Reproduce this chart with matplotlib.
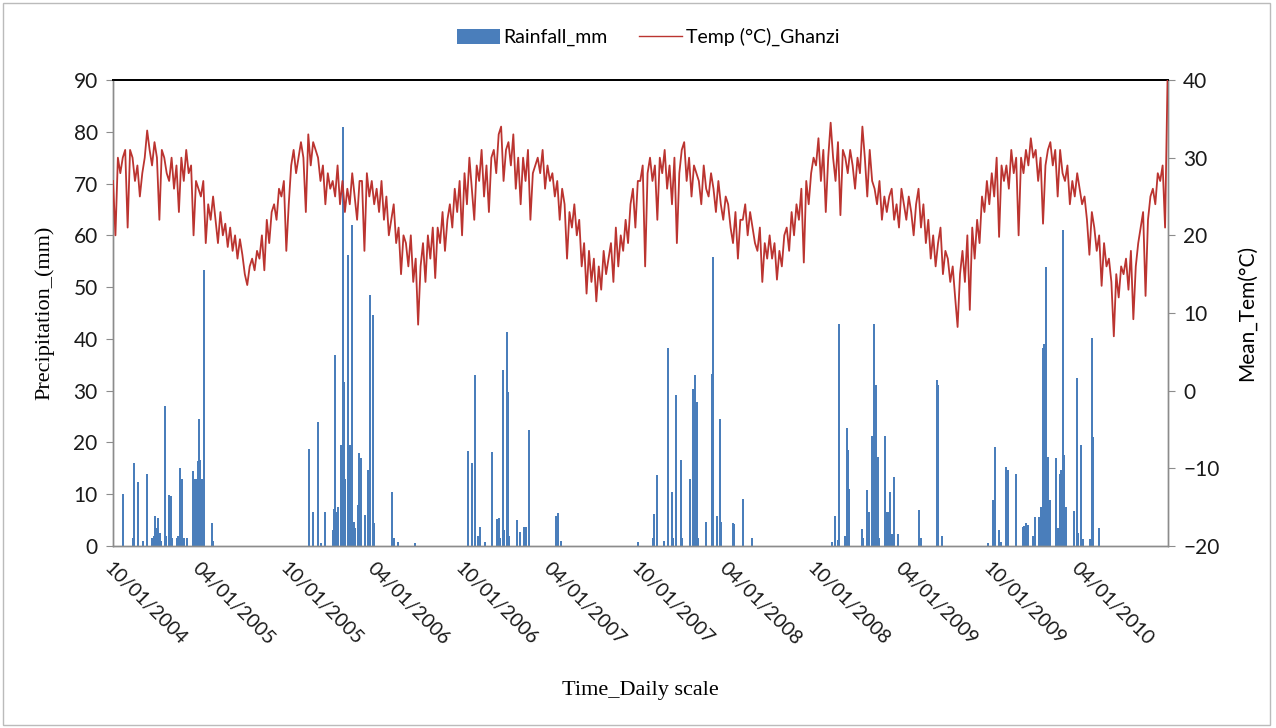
import matplotlib
matplotlib.use("Agg")
import matplotlib.pyplot as plt
import matplotlib.dates as mdates
import pandas as pd
from matplotlib.patches import Patch, Rectangle
from matplotlib.lines import Line2D

# Daily mean temperature at Ghanzi (6 readings per month, Oct 2004 - Sep 2010)
temp_c = [
    # 2004-10 .. 2005-09
    27, 20, 30, 28, 30, 31,
    21, 31, 30, 27, 29, 25,
    28, 30, 33.5, 31, 29, 32,
    30, 22, 31, 30, 28, 27,
    30, 26, 29, 23, 30, 27,
    31, 28, 29, 20, 27, 26,
    25, 27, 19, 24, 22, 25,
    22, 19, 23, 20, 21.5, 18.5,
    21, 18, 20, 17, 19.5, 17.5,
    15, 13.6, 16, 17, 15.5, 18,
    17, 20, 15.5, 22, 19, 23,
    24, 22, 26, 25, 27, 18,
    # 2005-10 .. 2006-09
    24, 29, 31, 28, 30, 32,
    30, 23, 33, 29, 32, 31,
    30, 27, 29, 24, 28, 26,
    27, 25, 29, 24, 27, 23,
    26, 24, 28, 25, 22, 27,
    27, 18, 28, 25, 27, 24,
    26, 23, 27, 22, 25, 20,
    22, 24, 19, 21, 15, 20,
    19, 16, 20, 14, 17, 8.5,
    16, 19, 14, 20, 17, 21,
    14.5, 21, 19, 23, 18, 22,
    24, 21, 26, 23, 27, 20,
    # 2006-10 .. 2007-09
    28, 24, 30, 26, 22, 29,
    27, 31, 25, 29, 23, 30,
    31, 28, 33, 34, 27, 31,
    32, 29, 33, 26, 30, 24,
    30, 27, 31, 22, 28, 29,
    30, 28, 31, 26, 29, 27,
    28, 25, 27, 22, 26, 24,
    17, 23, 21, 24, 20, 22,
    16, 19, 12.5, 18, 14, 17,
    11.5, 16, 13, 18, 15, 17,
    19, 14, 21, 16, 20, 18,
    22, 19, 24, 26, 21, 27,
    # 2007-10 .. 2008-09
    27, 29, 16, 28, 30, 27,
    29, 22, 30, 28, 31, 26,
    29, 24, 30, 19, 28, 31,
    32, 27, 30, 25, 29, 28,
    27, 24, 29, 26, 25, 28,
    26, 23, 27, 24, 22, 25,
    24, 21, 19, 23, 17, 22,
    22, 24, 20, 23, 21, 19,
    18, 21, 14, 19, 17, 20,
    17, 19, 14.3, 18, 16, 20,
    21, 18, 23, 20, 24, 22,
    26, 16.5, 27, 24, 28, 30,
    # 2008-10 .. 2009-09
    29, 32.5, 27, 31, 23, 30,
    34.5, 30, 27, 32, 22.6, 31,
    30, 28, 31, 29, 26, 30,
    28, 34, 30, 25, 31, 27,
    26, 24, 27, 22, 25, 23,
    25, 26, 22, 24, 21, 26,
    24, 22, 25, 23, 20, 24,
    26, 21, 24, 19, 22, 17,
    20, 16, 19, 21, 15, 18,
    17, 14, 16, 12, 8.2, 15,
    18, 14, 20, 10.4, 21, 17,
    22, 19, 25, 23, 27, 24,
    # 2009-10 .. 2010-09
    28, 25, 30, 19.8, 29, 27,
    29, 26, 31, 28, 30, 20,
    30, 28, 31, 29, 32.5, 30,
    31, 27, 30, 21.5, 29, 31,
    32, 29, 31, 25, 31, 28,
    27, 29, 24, 27, 25, 28,
    26, 24, 25, 22, 17.5, 23,
    21, 18, 20, 13.5, 19, 16,
    17, 14, 7, 15, 12, 16,
    15, 17, 13, 18, 9.2, 16,
    19, 21, 23, 12.2, 22, 25,
    26, 24, 28, 27, 29, 21,
    40,
]

# Daily rainfall events (mm)
rain_dates = [
    "2004-10-22", "2004-11-12", "2004-11-14", "2004-11-22", "2004-12-03", "2004-12-10",
    "2004-12-21", "2004-12-25", "2004-12-28", "2004-12-31", "2005-01-03", "2005-01-06",
    "2005-01-09", "2005-01-18", "2005-01-20", "2005-01-25", "2005-01-29", "2005-01-31",
    "2005-02-11", "2005-02-14", "2005-02-18", "2005-02-21", "2005-02-25", "2005-03-03",
    "2005-03-16", "2005-03-21", "2005-03-24", "2005-03-26", "2005-03-28", "2005-03-31",
    "2005-04-03", "2005-04-08", "2005-04-24", "2005-04-26",
    "2005-11-12", "2005-11-21", "2005-12-01", "2005-12-07", "2005-12-16", "2006-01-01",
    "2006-01-03", "2006-01-05", "2006-01-08", "2006-01-11", "2006-01-18", "2006-01-21",
    "2006-01-24", "2006-01-26", "2006-02-01", "2006-02-05", "2006-02-09", "2006-02-13",
    "2006-02-16", "2006-02-22", "2006-02-24", "2006-02-27", "2006-03-09", "2006-03-14",
    "2006-03-19", "2006-03-24", "2006-03-28", "2006-05-03", "2006-05-07", "2006-05-16",
    "2006-06-21",
    "2006-10-09", "2006-10-16", "2006-10-23", "2006-10-30", "2006-11-02", "2006-11-13",
    "2006-11-27", "2006-12-07", "2006-12-11", "2006-12-13", "2006-12-19", "2006-12-21",
    "2006-12-28", "2006-12-30", "2007-01-02", "2007-01-18", "2007-01-24", "2007-02-01",
    "2007-02-05", "2007-02-12", "2007-04-08", "2007-04-11", "2007-04-14", "2007-04-19",
    "2007-09-27", "2007-10-28", "2007-10-30", "2007-11-04", "2007-11-20", "2007-11-28",
    "2007-12-05", "2007-12-09", "2007-12-15", "2007-12-24", "2007-12-26", "2008-01-12",
    "2008-01-18", "2008-01-23", "2008-01-26", "2008-01-29", "2008-02-15", "2008-02-27",
    "2008-02-29", "2008-03-09", "2008-03-14", "2008-03-17", "2008-04-10", "2008-04-13",
    "2008-05-01", "2008-05-20",
    "2008-11-02", "2008-11-09", "2008-11-14", "2008-11-17", "2008-11-30", "2008-12-03",
    "2008-12-06", "2008-12-08", "2009-01-03", "2009-01-06", "2009-01-13", "2009-01-18",
    "2009-01-24", "2009-01-29", "2009-02-02", "2009-02-05", "2009-02-07", "2009-02-20",
    "2009-02-24", "2009-02-27", "2009-03-03", "2009-03-06", "2009-03-11", "2009-03-19",
    "2009-05-02", "2009-05-06", "2009-06-08", "2009-06-11", "2009-06-18",
    "2009-09-22", "2009-10-03", "2009-10-06", "2009-10-16", "2009-10-19", "2009-10-30",
    "2009-11-02", "2009-11-20", "2009-12-03", "2009-12-07", "2009-12-10", "2009-12-14",
    "2009-12-24", "2009-12-29", "2010-01-07", "2010-01-10", "2010-01-14", "2010-01-17",
    "2010-01-21", "2010-01-24", "2010-01-28", "2010-02-11", "2010-02-14", "2010-02-18",
    "2010-02-21", "2010-02-24", "2010-02-28", "2010-03-03", "2010-03-19", "2010-03-26",
    "2010-03-29", "2010-04-03", "2010-04-07", "2010-04-23", "2010-04-26", "2010-04-29",
    "2010-05-11",
]
rain_mm = [
    10, 1.5, 16, 12.4, 1, 14,
    1.5, 2, 5.7, 3.5, 5.5, 2.5,
    1, 27, 2, 9.9, 9.7, 1.5,
    1.5, 2, 15, 13, 1.5, 1.5,
    14.4, 13, 13, 16.4, 24.6, 16.6,
    13, 53.3, 4.4, 1,
    18.8, 6.6, 23.9, 0.5, 6.6, 3,
    7.2, 36.9, 6.5, 7.6, 19.5, 81,
    31.7, 13, 56.2, 19.5, 62, 4.7,
    3.4, 7.9, 18, 17, 6, 14.6,
    48.5, 44.6, 4.4, 10.5, 1.5, 0.8,
    0.5,
    18.3, 16, 33, 2, 3.7, 0.8,
    18.2, 5.3, 5.4, 1.5, 34, 3,
    41.4, 29.8, 2, 5, 2.8, 3.7,
    3.7, 22.4, 5.7, 4.2, 6.3, 1,
    0.8, 1.5, 6.2, 13.7, 1, 38.2,
    10.5, 1.5, 29.2, 16.6, 1.5, 13,
    30.3, 33, 27.9, 1.5, 4.7, 33.3,
    55.9, 5.7, 24.6, 4.7, 4.4, 4.2,
    9, 1.6,
    0.8, 5.8, 1.2, 42.8, 2, 22.7,
    18.5, 11.1, 3.2, 1.5, 10.8, 6.6,
    21.3, 42.8, 31.1, 17.2, 1.5, 21.3,
    6.6, 6.6, 10.5, 2.4, 13.4, 2.4,
    7, 1.5, 32, 31, 1.9,
    0.5, 8.8, 19.2, 3, 0.8, 15.3,
    14.6, 14, 3.7, 3.9, 4.4, 4,
    1.9, 5.6, 5.6, 7.6, 38.2, 39,
    53.9, 17.2, 8.8, 16.9, 3.5, 14,
    14.6, 61, 17.5, 7.6, 6.8, 32.4,
    2.5, 19.5, 1.3, 1.3, 40.1, 21,
    3.4,
]

temp_dates = pd.date_range("2004-10-01", "2010-09-30", periods=len(temp_c))
rain_days = pd.to_datetime(rain_dates)
tick_dates = pd.date_range("2004-10-01", "2010-04-01", freq="6MS")

BLUE = "#4A7EBB"
RED = "#BB3430"
AXIS_GRAY = "#8C8C8C"
SANS = ["Lato", "DejaVu Sans"]
SERIF = ["Liberation Serif", "DejaVu Serif"]

fig = plt.figure(figsize=(12.76, 7.28), dpi=100)
ax = fig.add_axes([113 / 1276, 1 - 546 / 728, (1168 - 113) / 1276, (546 - 80) / 728])
ax2 = ax.twinx()

ax.bar(rain_days, rain_mm, width=4.2, color=BLUE, linewidth=0, zorder=2)
ax2.plot(temp_dates, temp_c, color=RED, lw=1.3, zorder=3)

ax.set_xlim(pd.Timestamp("2004-10-01"), pd.Timestamp("2010-10-01"))
ax.set_ylim(0, 90)
ax2.set_ylim(-20, 40)
ax.set_yticks(range(0, 91, 10))
ax2.set_yticks(range(-20, 41, 10))

ax.set_xticks(tick_dates)
ax.xaxis.set_major_formatter(mdates.DateFormatter("%m/%d/%Y"))
ax.tick_params(axis="x", length=0, pad=10)
for lbl in ax.get_xticklabels():
    lbl.set_rotation(-45)
    lbl.set_ha("left")
    lbl.set_va("top")
    lbl.set_rotation_mode("anchor")
    lbl.set_fontfamily(SANS)
    lbl.set_fontsize(14)
    lbl.set_color("#1a1a1a")

for a in (ax, ax2):
    for lbl in a.get_yticklabels():
        lbl.set_fontfamily(SANS)
        lbl.set_fontsize(15)
        lbl.set_color("#1a1a1a")
ax.tick_params(axis="y", direction="out", length=5, color=AXIS_GRAY, pad=6)
ax2.tick_params(axis="y", direction="out", length=5, color=AXIS_GRAY, pad=6)

for a in (ax, ax2):
    for side in ("left", "right", "bottom"):
        a.spines[side].set_color(AXIS_GRAY)
        a.spines[side].set_linewidth(1.0)
    a.spines["top"].set_color("black")
    a.spines["top"].set_linewidth(1.3)

ax.set_ylabel("Precipitation_(mm)", fontfamily=SERIF, fontsize=16, labelpad=14)
ax2.set_ylabel("Mean_Tem(°C)", fontfamily=SANS, fontsize=15, labelpad=12)
fig.text(640 / 1276, 1 - 690 / 728, "Time_Daily scale", fontfamily=SERIF, fontsize=16,
         ha="center", va="center")

handles = [
    Patch(facecolor=BLUE, edgecolor="none", label="Rainfall_mm"),
    Line2D([0], [0], color=RED, lw=1.0, label="Temp (°C)_Ghanzi"),
]
fig.legend(handles=handles, loc="center", bbox_to_anchor=(648 / 1276, 1 - 37 / 728),
           ncol=2, frameon=False, prop={"family": SANS, "size": 14},
           handlelength=2.2, handleheight=0.8, columnspacing=1.6, handletextpad=0.2)

fig.patches.append(Rectangle((0.002, 0.004), 0.993, 0.992, transform=fig.transFigure,
                             fill=False, edgecolor="#BBBBBB", lw=1.0))

fig.savefig("out.png", dpi=100, facecolor="white")
